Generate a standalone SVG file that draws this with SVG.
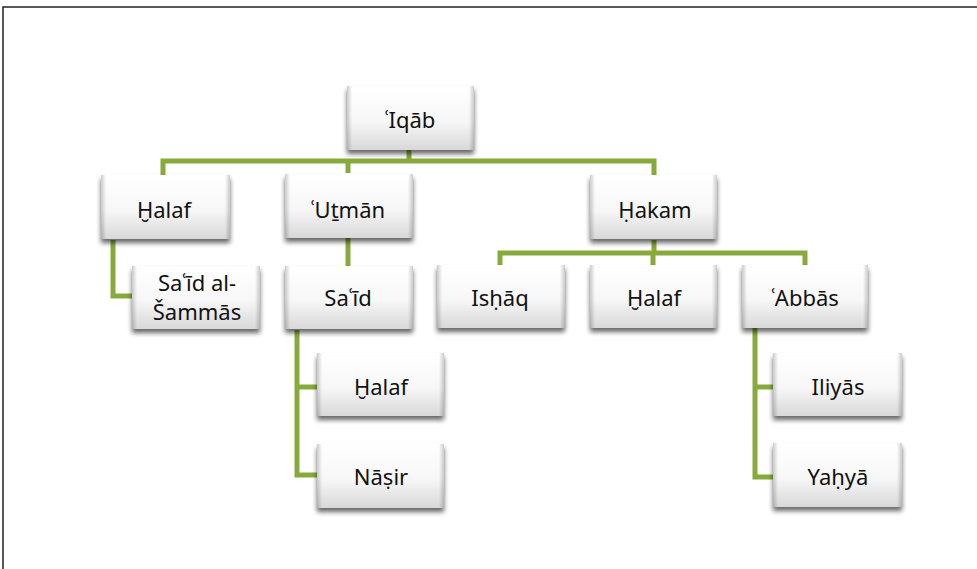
<svg xmlns="http://www.w3.org/2000/svg" width="977" height="569" viewBox="0 0 977 569">
<defs>
<linearGradient id="g" x1="0" y1="0" x2="0" y2="1">
<stop offset="0" stop-color="#ffffff"/>
<stop offset="0.55" stop-color="#f7f7f7"/>
<stop offset="1" stop-color="#d8d8d8"/>
</linearGradient>
<linearGradient id="side" x1="0" y1="0" x2="1" y2="0">
<stop offset="0" stop-color="#000" stop-opacity="0.2"/>
<stop offset="0.04" stop-color="#000" stop-opacity="0"/>
<stop offset="0.96" stop-color="#000" stop-opacity="0"/>
<stop offset="1" stop-color="#000" stop-opacity="0.2"/>
</linearGradient>
<filter id="sh" x="-10%" y="-10%" width="120%" height="140%">
<feGaussianBlur in="SourceAlpha" stdDeviation="2.5"/>
<feOffset dy="4" result="b"/>
<feComponentTransfer><feFuncA type="linear" slope="0.6"/></feComponentTransfer>
<feMerge><feMergeNode/><feMergeNode in="SourceGraphic"/></feMerge>
</filter>
</defs>
<style>
.box{fill:url(#g);filter:url(#sh);}
.edge{fill:url(#side);}
.t{font-family:"Noto Sans","Open Sans","DejaVu Sans",sans-serif;font-size:22px;fill:#111;text-anchor:middle;dominant-baseline:central;}
.c{fill:none;stroke:#88a93b;stroke-width:5;stroke-linejoin:miter;}
.frame{fill:none;stroke:#222;stroke-width:1.5;}
</style>
<rect width="977" height="569" fill="#fff"/>
<path class="frame" d="M3,569 V7 H977"/>
<g id="connectors">
<path class="c" d="M409,150 V161"/>
<path class="c" d="M163,175 V161 H654 V175"/>
<path class="c" d="M348,161 V173"/>
<path class="c" d="M113,240 V296 H132"/>
<path class="c" d="M348,238 V267"/>
<path class="c" d="M297,330 V475 H317"/>
<path class="c" d="M297,387 H317"/>
<path class="c" d="M654,240 V253"/>
<path class="c" d="M500,265 V253 H805 V265"/>
<path class="c" d="M653,253 V265"/>
<path class="c" d="M755,328 V477 H773"/>
<path class="c" d="M755,387 H773"/>
</g>
<g id="n-iqab"><rect class="box" x="347" y="86" width="127" height="64"/><rect class="edge" x="347" y="86" width="127" height="64"/><text class="t" x="410" y="119">ʿIqāb</text></g>
<g id="n-halaf1"><rect class="box" x="101" y="175" width="129" height="64"/><rect class="edge" x="101" y="175" width="129" height="64"/><text class="t" x="164" y="209">Ḫalaf</text></g>
<g id="n-utman"><rect class="box" x="285" y="174" width="128" height="64"/><rect class="edge" x="285" y="174" width="128" height="64"/><text class="t" x="348" y="209">ʿUṯmān</text></g>
<g id="n-hakam"><rect class="box" x="590" y="175" width="127" height="64"/><rect class="edge" x="590" y="175" width="127" height="64"/><text class="t" x="655" y="209">Ḥakam</text></g>
<g id="n-said-sammas"><rect class="box" x="132" y="266" width="128" height="63"/><rect class="edge" x="132" y="266" width="128" height="63"/><text class="t" x="197" y="282">Saʿīd al-</text><text class="t" x="197" y="311">Šammās</text></g>
<g id="n-said"><rect class="box" x="285" y="266" width="128" height="63"/><rect class="edge" x="285" y="266" width="128" height="63"/><text class="t" x="348" y="297">Saʿīd</text></g>
<g id="n-ishaq"><rect class="box" x="437" y="265" width="128" height="63"/><rect class="edge" x="437" y="265" width="128" height="63"/><text class="t" x="500" y="297">Isḥāq</text></g>
<g id="n-halaf2"><rect class="box" x="590" y="265" width="127" height="63"/><rect class="edge" x="590" y="265" width="127" height="63"/><text class="t" x="654" y="297">Ḫalaf</text></g>
<g id="n-abbas"><rect class="box" x="742" y="265" width="126" height="63"/><rect class="edge" x="742" y="265" width="126" height="63"/><text class="t" x="805" y="297">ʿAbbās</text></g>
<g id="n-halaf3"><rect class="box" x="317" y="353" width="127" height="63"/><rect class="edge" x="317" y="353" width="127" height="63"/><text class="t" x="381" y="386">Ḫalaf</text></g>
<g id="n-nasir"><rect class="box" x="317" y="444" width="127" height="64"/><rect class="edge" x="317" y="444" width="127" height="64"/><text class="t" x="381" y="476">Nāṣir</text></g>
<g id="n-iliyas"><rect class="box" x="773" y="353" width="129" height="63"/><rect class="edge" x="773" y="353" width="129" height="63"/><text class="t" x="838" y="386">Iliyās</text></g>
<g id="n-yahya"><rect class="box" x="773" y="443" width="129" height="64"/><rect class="edge" x="773" y="443" width="129" height="64"/><text class="t" x="838" y="476">Yaḥyā</text></g>
</svg>
